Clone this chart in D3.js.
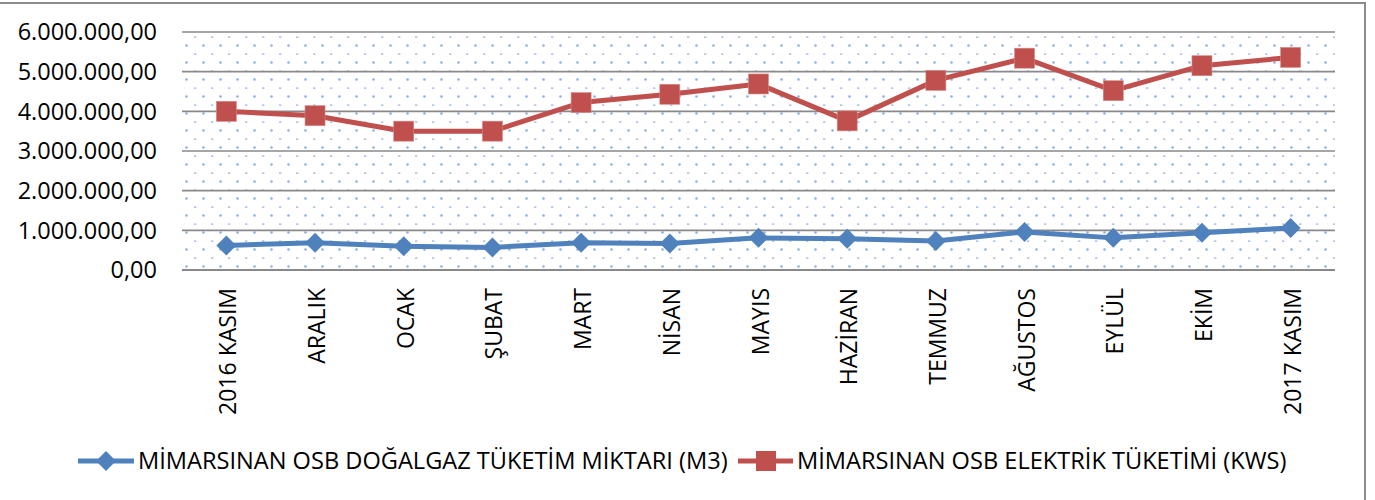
<!DOCTYPE html>
<html>
<head>
<meta charset="utf-8">
<script src="https://cdn.jsdelivr.net/npm/d3@7"></script>
<style>
  body { margin: 0; background: #fff; }
  text { font-family: "Open Sans", "Liberation Sans", sans-serif; fill: #000; }
</style>
</head>
<body>
<svg id="app" width="1375" height="500"></svg>
<script>
const svg = d3.select('#app')

const months = ['2016 KASIM', 'ARALIK', 'OCAK', 'ŞUBAT', 'MART', 'NİSAN', 'MAYIS',
  'HAZİRAN', 'TEMMUZ', 'AĞUSTOS', 'EYLÜL', 'EKİM', '2017 KASIM']

const gasValues = [620000, 690000, 600000, 570000, 690000, 670000, 810000,
  790000, 730000, 960000, 810000, 940000, 1060000]

const elecValues = [4000000, 3890000, 3500000, 3500000, 4220000, 4430000, 4690000,
  3760000, 4780000, 5340000, 4520000, 5150000, 5360000]

const yTicks = [0, 1000000, 2000000, 3000000, 4000000, 5000000, 6000000]

const gasName = 'MİMARSINAN OSB DOĞALGAZ TÜKETİM MİKTARI (M3)'
const elecName = 'MİMARSINAN OSB ELEKTRİK TÜKETİMİ (KWS)'

const blue = '#4f81bd'
const red = '#c0504d'
const gridColor = '#898989'

const plot = {left: 182, right: 1335, top: 32, bottom: 270}

const x = d3.scaleBand().domain(months).range([plot.left, plot.right])
const y = d3.scaleLinear().domain([0, 6000000]).range([plot.bottom, plot.top])

const fmt = v => {
  const s = d3.format(',.2f')(v)
  return s.replace(/,/g, '#').replace('.', ',').replace(/#/g, '.')
}

// dotted background pattern
const defs = svg.append('defs')
const pat = defs.append('pattern')
  .attr('id', 'dots')
  .attr('patternUnits', 'userSpaceOnUse')
  .attr('x', plot.left).attr('y', plot.top)
  .attr('width', 17).attr('height', 17)
pat.append('circle').attr('cx', 4.5).attr('cy', 13.5).attr('r', 1.3).attr('fill', '#8fb0dc')
pat.append('rect').attr('x', 12).attr('y', 4.5).attr('width', 2.4).attr('height', 1.2).attr('fill', '#8fb0dc')

// outer chart border
svg.append('rect')
  .attr('x', -2).attr('y', 3)
  .attr('width', 1367).attr('height', 520)
  .attr('fill', 'none')
  .attr('stroke', '#8c8c8c')
  .attr('stroke-width', 2)

svg.append('rect')
  .attr('x', plot.left).attr('y', plot.top)
  .attr('width', plot.right - plot.left).attr('height', plot.bottom - plot.top)
  .attr('fill', 'url(#dots)')

// gridlines
svg.append('g').selectAll('line')
  .data(yTicks)
  .enter()
  .append('line')
  .attr('x1', plot.left).attr('x2', plot.right)
  .attr('y1', d => y(d)).attr('y2', d => y(d))
  .attr('stroke', gridColor)
  .attr('stroke-width', d => d === 0 ? 2.2 : 1.6)

// y labels
svg.append('g').selectAll('text')
  .data(yTicks)
  .enter()
  .append('text')
  .attr('x', 157)
  .attr('y', d => y(d))
  .attr('dy', '0.36em')
  .attr('text-anchor', 'end')
  .attr('font-size', 23.5)
  .text(d => fmt(d))

// x labels
svg.append('g').selectAll('text')
  .data(months)
  .enter()
  .append('text')
  .attr('transform', d => `translate(${x(d) + x.bandwidth() / 2 + 10}, 288) rotate(-90)`)
  .attr('text-anchor', 'end')
  .attr('font-size', 23)
  .text(d => d)

const line = d3.line()
  .x((d, i) => x(months[i]) + x.bandwidth() / 2)
  .y(d => y(d))

svg.append('path')
  .datum(gasValues)
  .attr('d', line)
  .attr('fill', 'none')
  .attr('stroke', blue)
  .attr('stroke-width', 5)
  .attr('stroke-linejoin', 'round')

svg.append('path')
  .datum(elecValues)
  .attr('d', line)
  .attr('fill', 'none')
  .attr('stroke', red)
  .attr('stroke-width', 5)
  .attr('stroke-linejoin', 'round')

const diamond = (cx, cy, r) => `M${cx},${cy - r} L${cx + r},${cy} L${cx},${cy + r} L${cx - r},${cy} Z`

svg.append('g').selectAll('path')
  .data(gasValues)
  .enter()
  .append('path')
  .attr('d', (d, i) => diamond(x(months[i]) + x.bandwidth() / 2, y(d), 10))
  .attr('fill', blue)

svg.append('g').selectAll('rect')
  .data(elecValues)
  .enter()
  .append('rect')
  .attr('x', (d, i) => x(months[i]) + x.bandwidth() / 2 - 10)
  .attr('y', d => y(d) - 10)
  .attr('width', 20).attr('height', 20)
  .attr('fill', red)
  .attr('stroke', '#d88a88')
  .attr('stroke-width', 0.6)

// legend
const legend = svg.append('g')
const ly = 461
legend.append('line').attr('x1', 78).attr('x2', 134).attr('y1', ly).attr('y2', ly)
  .attr('stroke', blue).attr('stroke-width', 5)
legend.append('path').attr('d', diamond(106, ly, 10)).attr('fill', blue)
legend.append('text').attr('x', 138).attr('y', ly).attr('dy', '0.36em')
  .attr('font-size', 23.6)
  .text(gasName)

legend.append('line').attr('x1', 738).attr('x2', 793).attr('y1', ly).attr('y2', ly)
  .attr('stroke', red).attr('stroke-width', 5)
legend.append('rect').attr('x', 756).attr('y', ly - 10).attr('width', 20).attr('height', 20)
  .attr('fill', red)
legend.append('text').attr('x', 797).attr('y', ly).attr('dy', '0.36em')
  .attr('font-size', 23.6)
  .text(elecName)
</script>
</body>
</html>
